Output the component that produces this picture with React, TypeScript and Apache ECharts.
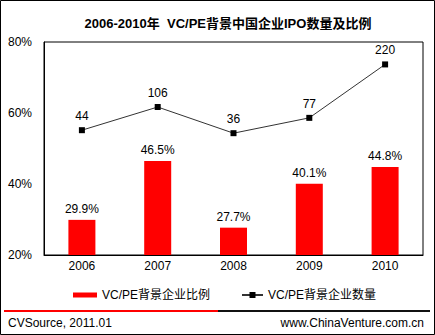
import React, { useEffect, useRef } from 'react';
import * as echarts from 'echarts';

const years = ['2006', '2007', '2008', '2009', '2010'];
const ratioValues = [29.9, 46.5, 27.7, 40.1, 44.8];
const countValues = [44, 106, 36, 77, 220];
const yMin = 20;
const yMax = 80;
const yStep = 20;
const ratioName = 'VC/PE背景企业比例';
const countName = 'VC/PE背景企业数量';
const titleText = '2006-2010年  VC/PE背景中国企业IPO数量及比例';
const sourceText = 'CVSource, 2011.01';
const siteText = 'www.ChinaVenture.com.cn';

const FONT = "'Liberation Sans', Arial, 'Noto Sans CJK SC', sans-serif";

export default function App() {
  const ref = useRef<HTMLDivElement>(null);
  useEffect(() => {
    const chart = echarts.init(ref.current!, null, { renderer: 'svg' });
    chart.setOption({
      animation: false,
      backgroundColor: '#fff',
      textStyle: { fontFamily: FONT, color: '#000' },
      grid: {
        left: 44,
        top: 42,
        width: 379,
        height: 213,
        show: true,
        borderColor: '#000',
        borderWidth: 1,
        backgroundColor: 'transparent',
      },
      xAxis: {
        type: 'category',
        data: years,
        axisLine: { show: true, onZero: false, lineStyle: { color: '#000', width: 1 } },
        axisTick: { show: false },
        axisLabel: { fontSize: 12, color: '#000', margin: 5, fontFamily: FONT },
        splitLine: { show: false },
      },
      yAxis: [
        {
          type: 'value',
          min: yMin,
          max: yMax,
          interval: yStep,
          axisLine: { show: true, onZero: false, lineStyle: { color: '#000', width: 1 } },
          axisTick: { show: false },
          splitLine: { show: false },
          axisLabel: { fontSize: 12, color: '#000', margin: 12, formatter: '{value}%', fontFamily: FONT },
        },
        {
          type: 'value',
          min: -290,
          max: 280,
          show: false,
          splitLine: { show: false },
        },
      ],
      legend: [
        {
          data: [ratioName],
          left: 73,
          top: 289,
          padding: 0,
          itemWidth: 24,
          itemHeight: 5,
          icon: 'rect',
          selectedMode: false,
          textStyle: { fontSize: 12, color: '#000', fontFamily: FONT },
        },
        {
          data: [countName],
          left: 241,
          top: 289,
          padding: 0,
          itemWidth: 21,
          itemHeight: 7.5,
          selectedMode: false,
          textStyle: { fontSize: 12, color: '#000', fontFamily: FONT },
        },
      ],
      series: [
        {
          name: ratioName,
          type: 'bar',
          data: ratioValues,
          barWidth: 27,
          itemStyle: { color: '#FF0000' },
          label: {
            show: true,
            position: 'top',
            distance: 5,
            fontSize: 12,
            color: '#000',
            fontFamily: FONT,
            formatter: (p: any) => Number(p.value).toFixed(1) + '%',
          },
        },
        {
          name: countName,
          type: 'line',
          yAxisIndex: 1,
          data: countValues,
          symbol: 'rect',
          symbolSize: 6,
          lineStyle: { color: '#333', width: 1 },
          itemStyle: { color: '#000' },
          label: {
            show: true,
            position: 'top',
            distance: 5,
            fontSize: 12,
            color: '#000',
            fontFamily: FONT,
          },
          z: 5,
        },
      ],
      graphic: [
        {
          type: 'rect',
          shape: { x: 0.5, y: 0.5, width: 434, height: 334 },
          style: { fill: 'none', stroke: '#000', lineWidth: 1 },
          silent: true,
        },
        {
          type: 'text',
          x: 228,
          y: 23,
          style: {
            text: titleText,
            align: 'center',
            verticalAlign: 'middle',
            textAlign: 'center',
            textVerticalAlign: 'middle',
            fontSize: 13,
            fontWeight: 'bold',
            fontFamily: FONT,
            fill: '#000',
          },
        },
        {
          type: 'line',
          shape: { x1: 4, y1: 311, x2: 218, y2: 311 },
          style: { stroke: '#FF0000', lineWidth: 2 },
        },
        {
          type: 'line',
          shape: { x1: 218, y1: 311, x2: 430, y2: 311 },
          style: { stroke: '#111', lineWidth: 2 },
        },
        {
          type: 'text',
          x: 8,
          y: 323,
          style: {
            text: sourceText,
            align: 'left',
            verticalAlign: 'middle',
            textAlign: 'left',
            textVerticalAlign: 'middle',
            fontSize: 12,
            fontFamily: FONT,
            fill: '#000',
          },
        },
        {
          type: 'text',
          x: 424,
          y: 323,
          style: {
            text: siteText,
            align: 'right',
            verticalAlign: 'middle',
            textAlign: 'right',
            textVerticalAlign: 'middle',
            fontSize: 12,
            fontFamily: FONT,
            fill: '#000',
          },
        },
      ],
    });
    return () => chart.dispose();
  }, []);
  return (
    <div
      ref={ref}
      style={{ position: 'absolute', left: 0, top: 0, width: 435, height: 335 }}
    />
  );
}
